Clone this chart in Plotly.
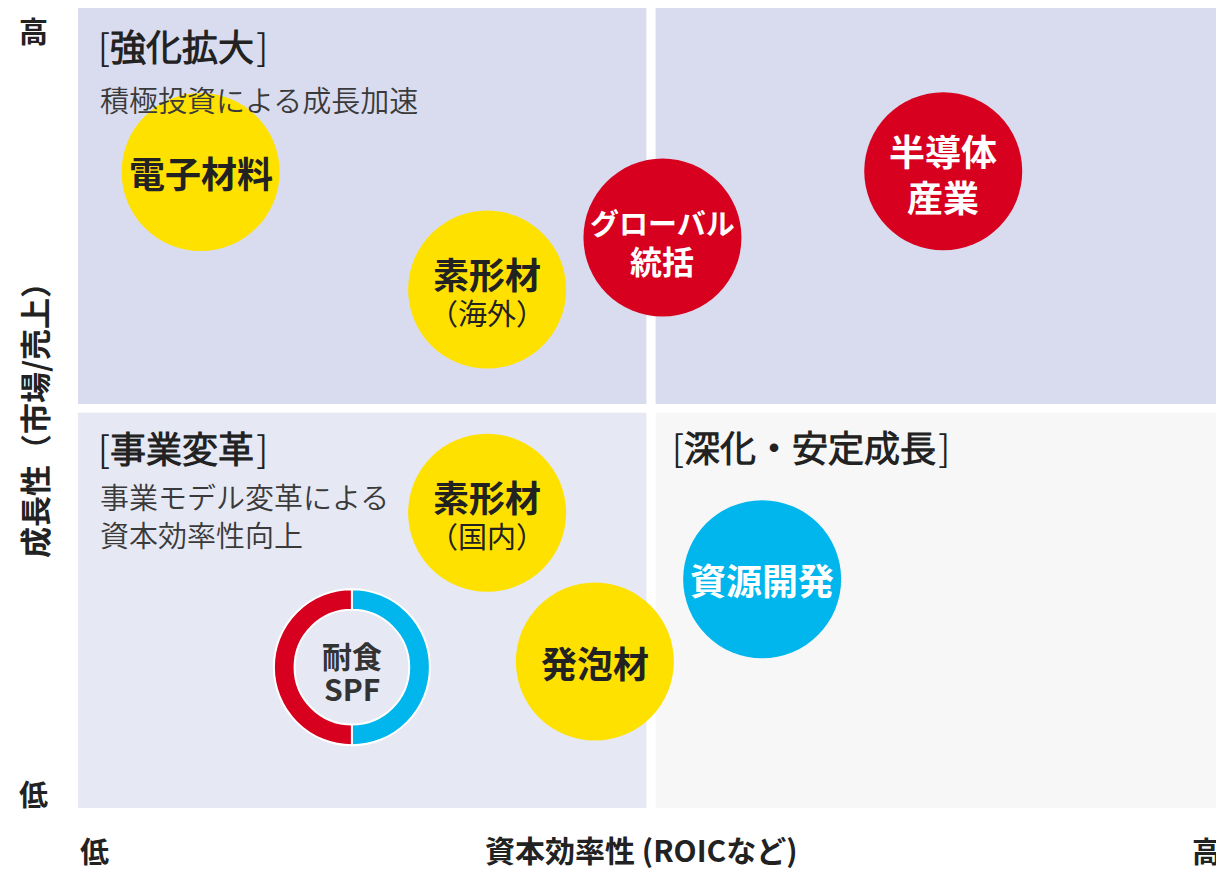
import plotly.graph_objects as go

# ---- data (abstract 0-100 scale on both axes) ----
bubble_main = ["電子材料", "素形材", "グローバル", "半導体", "素形材", "資源開発", "発泡材"]
bubble_sub = ["", "（海外）", "統括", "産業", "（国内）", "", ""]
bubble_x = [10.7, 35.7, 51.0, 75.5, 35.7, 59.7, 45.1]
bubble_y = [79.5, 64.8, 71.3, 79.6, 36.9, 28.6, 18.3]
bubble_kind = ["yellow", "yellow", "red", "red", "yellow", "cyan", "yellow"]

donut_main = "耐食"
donut_sub = "SPF"
donut_x = 23.9
donut_y = 17.6
donut_values = [50, 50]          # cyan half, red half

quadrant_titles = ["強化拡大", "事業変革", "深化・安定成長"]
quadrant_subtitles = ["積極投資による成長加速", "事業モデル変革による<br>資本効率性向上", ""]

x_title = "資本効率性 (ROICなど)"
y_title = "成長性（市場/売上）"
low_label, high_label = "低", "高"

# ---- styles ----
FONT = "Noto Sans CJK JP"
LIGHT_FONT = "Noto Sans CJK JP DemiLight, Noto Sans CJK JP Light, Noto Sans CJK JP"
TXT = "#222222"
COLORS = {"yellow": "#FFE100", "red": "#D7001F", "cyan": "#00B6EC"}
TEXT_COL = {"yellow": TXT, "red": "white", "cyan": "white"}
Q_TOP = "#D9DCEE"
Q_BL = "#E6E8F3"
Q_BR = "#F7F7F7"

OFF = 8                      # page body margin
W, H = 1216, 862
L, R, T, B = 70, 0, 0, 62
PW, PH = W - L - R, H - T - B


def dx(page_x):
    return (page_x - OFF - L) / PW * 100


def dy(page_y):
    return (H - B - (page_y - OFF)) / PH * 100


def pap(page_x, page_y):
    return (page_x - OFF - L) / PW, (H - B - (page_y - OFF)) / PH


fig = go.Figure()

# quadrants
quads = [
    (0, 49.6, 50.5, 100, Q_TOP),
    (50.4, 100, 50.5, 100, Q_TOP),
    (0, 49.6, 0, 49.4, Q_BL),
    (50.4, 100, 0, 49.4, Q_BR),
]
for x0, x1, y0, y1, c in quads:
    fig.add_shape(type="rect", x0=x0, x1=x1, y0=y0, y1=y1, fillcolor=c,
                  line=dict(width=0), layer="below")

# bubbles
for x, y, k in zip(bubble_x, bubble_y, bubble_kind):
    fig.add_trace(go.Scatter(
        x=[x], y=[y], mode="markers", hoverinfo="skip", showlegend=False,
        marker=dict(size=158, color=COLORS[k], line=dict(width=0), opacity=1),
    ))

# donut (耐食SPF)
cx_f = L + donut_x / 100 * PW
cy_f = H - B - donut_y / 100 * PH
r_out = 78
fig.add_trace(go.Pie(
    values=donut_values, sort=False, direction="clockwise", rotation=0,
    hole=0.735, textinfo="none", hoverinfo="skip", showlegend=False,
    marker=dict(colors=[COLORS["cyan"], COLORS["red"]], line=dict(color="white", width=2)),
    domain=dict(x=[(cx_f - r_out - L) / PW, (cx_f + r_out - L) / PW],
                y=[(H - B - cy_f - r_out) / PH, (H - B - cy_f + r_out) / PH]),
))

ann = []
# bubble labels
for m, s, x, y, k in zip(bubble_main, bubble_sub, bubble_x, bubble_y, bubble_kind):
    col = TEXT_COL[k]
    if not s:
        ann.append(dict(x=x, y=y, text="<b>" + m + "</b>", showarrow=False, xanchor="center",
                        yanchor="middle", font=dict(family=FONT, size=36, color=col)))
        continue
    if m == "グローバル":
        msize, ssize, up, down, sbold = 29, 32, 16, -22, True
    elif m == "半導体":
        msize, ssize, up, down, sbold = 36, 36, 21, -25, True
    else:
        msize, ssize, up, down, sbold = 36, 29, 17, -22, False
    ann.append(dict(x=x, y=y, yshift=up, text="<b>" + m + "</b>", showarrow=False,
                    xanchor="center", yanchor="middle",
                    font=dict(family=FONT, size=msize, color=col)))
    ann.append(dict(x=x, y=y, yshift=down, text=("<b>" + s + "</b>") if sbold else s,
                    showarrow=False, xanchor="center", yanchor="middle",
                    font=dict(family=FONT, size=ssize, color=col)))
ann.append(dict(x=donut_x, y=donut_y, yshift=12, text="<b>" + donut_main + "</b>", showarrow=False,
                xanchor="center", yanchor="middle", font=dict(family=FONT, size=30, color="#333333")))
ann.append(dict(x=donut_x, y=donut_y, yshift=-21, text="<b>" + donut_sub + "</b>", showarrow=False,
                xanchor="center", yanchor="middle", font=dict(family=FONT, size=30, color="#333333")))

# quadrant titles
title_pos = [(dx(96), dy(45)), (dx(96), dy(447)), (dx(670), dy(446))]
for t, (x, y) in zip(quadrant_titles, title_pos):
    ann.append(dict(x=x, y=y, text="[<b>" + t + "</b>\u200a]", showarrow=False, xanchor="left",
                    yanchor="middle", font=dict(family=LIGHT_FONT, size=36, color=TXT, weight=300)))
sub_pos = [(dx(98), dy(99)), (dx(98), dy(515)), None]
for s, p in zip(quadrant_subtitles, sub_pos):
    if s and p:
        ann.append(dict(x=p[0], y=p[1], text=s, showarrow=False, xanchor="left", yanchor="middle",
                        align="left", font=dict(family=LIGHT_FONT, size=29, color="#3a3a3a", weight=300)))

# axis labels
for txt, (px, py), ang, sz in [
    (high_label, (33, 30), 0, 29),
    (low_label, (33, 793), 0, 29),
    (y_title, (33, 413), -90, 31),
    (low_label, (94, 850), 0, 29),
    (x_title, (641, 849), 0, 30),
    (high_label, (1206, 850), 0, 29),
]:
    xp, yp = pap(px, py)
    ann.append(dict(x=xp, y=yp, xref="paper", yref="paper", text="<b>" + txt + "</b>",
                    textangle=ang, showarrow=False, xanchor="center", yanchor="middle",
                    borderpad=0, font=dict(family=FONT, size=sz, color=TXT)))

fig.update_layout(
    width=W, height=H, margin=dict(l=L, r=R, t=T, b=B),
    paper_bgcolor="white", plot_bgcolor="white",
    xaxis=dict(range=[0, 100], visible=False, fixedrange=True),
    yaxis=dict(range=[0, 100], visible=False, fixedrange=True),
    annotations=ann,
)

fig.write_html("out.html")
